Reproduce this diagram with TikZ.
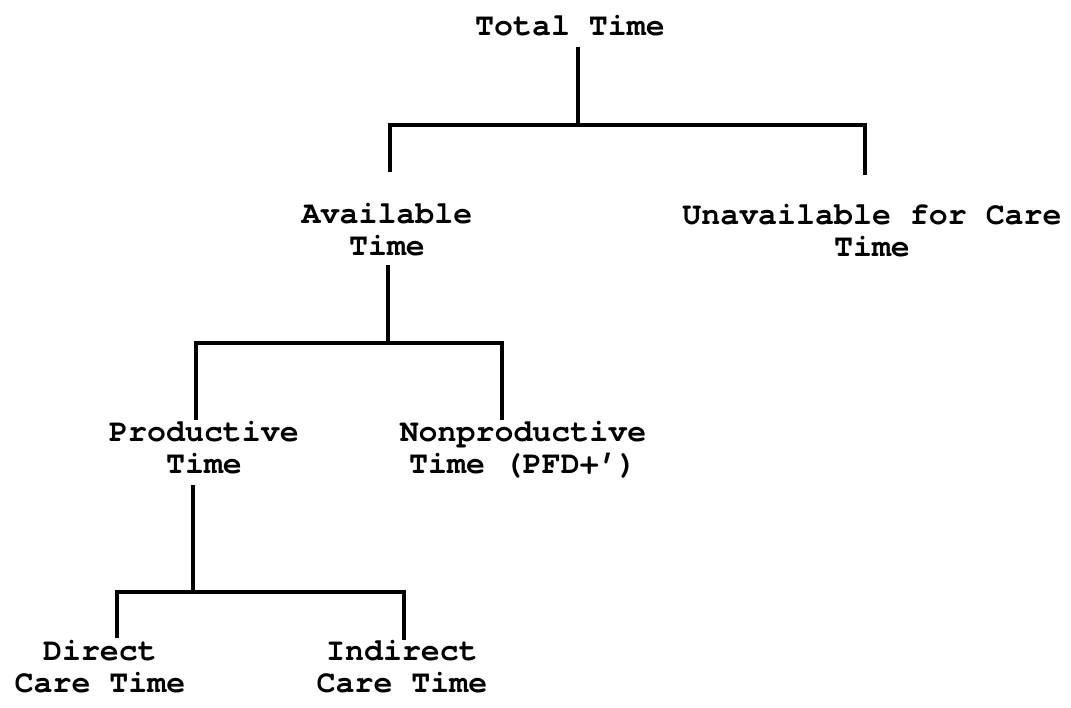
\documentclass[tikz,border=0pt]{standalone}
\usepackage{fontspec}
\setmonofont{TeX Gyre Cursor}
\begin{document}
\begin{tikzpicture}[x=1pt,y=-1pt,
  lbl/.style={font=\ttfamily\bfseries\fontsize{31.6}{31.5}\selectfont, align=center, inner sep=0pt, anchor=base},
  conn/.style={line width=3.2pt, line join=miter}]
\useasboundingbox[fill=white] (0,0) rectangle (1071,707);
% labels (anchor = baseline of last line)
\node[lbl] (tot) at (570,35) {Total Time};
\node[lbl] (avail) at (387,255) {Available\\Time};
\node[lbl] (unav) at (872,256) {Unavailable for Care\\Time};
\node[lbl] (prod) at (204,473) {Productive\\Time};
\node[lbl] (nonp) at (523,473) {Nonproductive\\Time (PFD+’)};
\node[lbl] (dir) at (100,692) {Direct\\Care Time};
\node[lbl] (ind) at (402,692) {Indirect\\Care Time};
% junction points
\coordinate (t0) at (578,47);
\coordinate (b1) at (578,125);
\coordinate (b1l) at (390,172);
\coordinate (b1r) at (865,175);
\coordinate (a0) at (388,265);
\coordinate (b2) at (388,343);
\coordinate (b2l) at (196,420);
\coordinate (b2r) at (502,420);
\coordinate (p0) at (193,485);
\coordinate (b3) at (193,592);
\coordinate (b3l) at (117,638);
\coordinate (b3r) at (404,640);
% connectors
\draw[conn] (t0) -- (b1);
\draw[conn] (b1l) |- (b1) -| (b1r);
\draw[conn] (a0) -- (b2);
\draw[conn] (b2l) |- (b2) -| (b2r);
\draw[conn] (p0) -- (b3);
\draw[conn] (b3l) |- (b3) -| (b3r);
\end{tikzpicture}
\end{document}
